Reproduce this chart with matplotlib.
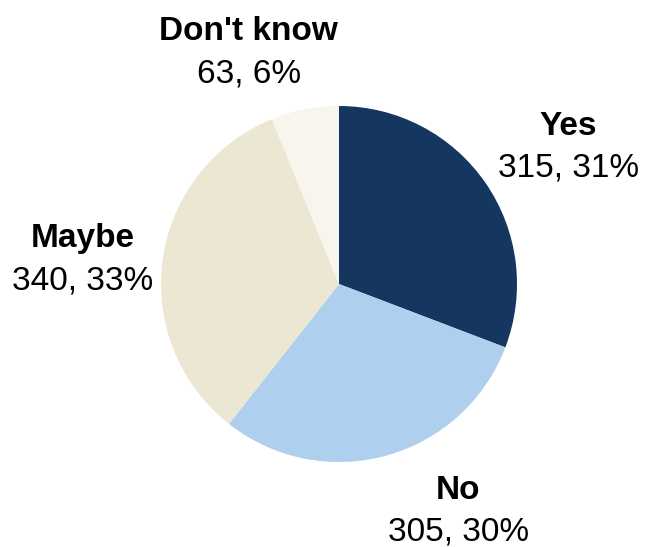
import matplotlib
matplotlib.use("Agg")
import matplotlib.pyplot as plt

plt.rcParams["font.family"] = ["Liberation Sans", "DejaVu Sans"]

# 回答の内訳
labels = ["Yes", "No", "Maybe", "Don't know"]
counts = [315, 305, 340, 63]
colors = ["#14365f", "#aecfed", "#ece7d2", "#f8f5ee"]

# ラベル位置（円の半径=1 基準）
label_pos = [(1.29, 0.787), (0.67, -1.256), (-1.438, 0.157), (-0.506, 1.32)]
line_gap = 0.118

W, H = 646, 547
cx, cy, r = 339, 284, 178

fig = plt.figure(figsize=(W / 100, H / 100), dpi=100)
ax = fig.add_axes([(cx - r) / W, (H - cy - r) / H, 2 * r / W, 2 * r / H])

ax.pie(counts, colors=colors, startangle=90, counterclock=False, radius=1,
       wedgeprops=dict(linewidth=0))
ax.set_xlim(-1, 1)
ax.set_ylim(-1, 1)
ax.set_aspect("equal")
ax.axis("off")

total = sum(counts)
for name, n, (x, y) in zip(labels, counts, label_pos):
    pct = round(n / total * 100)
    ax.text(x, y + line_gap, name, ha="center", va="center_baseline",
            fontsize=24, fontweight="bold", clip_on=False)
    ax.text(x, y - line_gap, f"{n}, {pct}%", ha="center", va="center_baseline",
            fontsize=24, clip_on=False)

fig.savefig("out.png", dpi=100, facecolor="white")
